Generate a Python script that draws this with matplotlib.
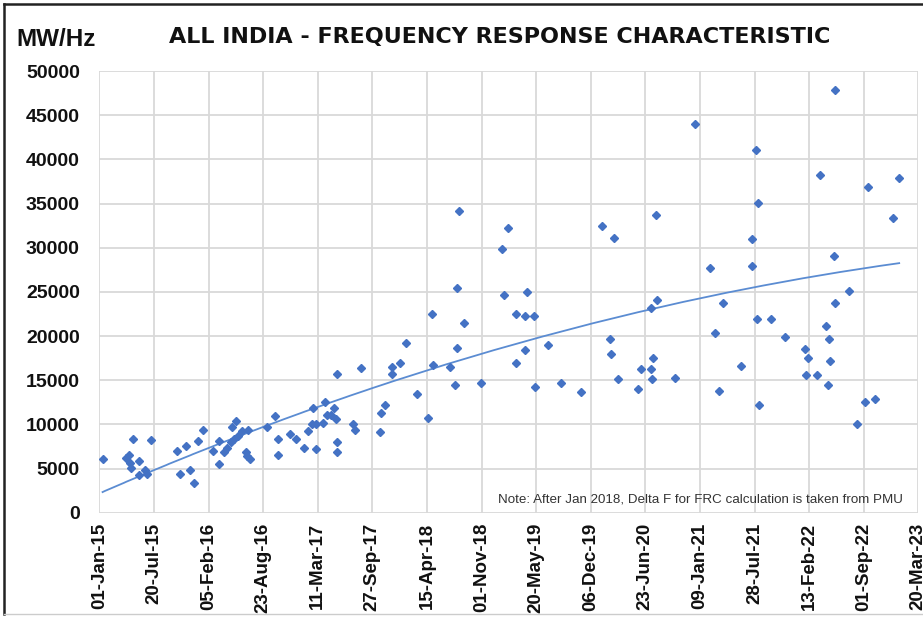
import numpy as np
import matplotlib
matplotlib.use("Agg")
import matplotlib.pyplot as plt
from matplotlib.lines import Line2D
import datetime as dt

# ---- data ----
start_date = "2015-01-01"
# days since 01-Jan-2015 for each measurement
days = [12, 98, 110, 112, 116, 122, 146, 145, 167, 176, 189, 283, 295, 317, 334, 347,
        360, 380, 416, 437, 439, 456, 468, 485, 484, 494, 502, 508, 523, 536, 543, 541,
        551, 613, 643, 656, 654, 698, 722, 748, 766, 784, 780, 795, 792, 821, 826, 834,
        850, 858, 868, 872, 870, 870,
        931, 937, 957, 1029, 1032, 1045, 1071, 1073, 1103, 1122, 1163, 1205, 1218, 1223,
        1285, 1304, 1311, 1311, 1336, 1398,
        1317, 1475, 1496, 1481, 1528, 1560, 1565, 1593, 1560, 1528, 1597, 1644, 1692,
        1764, 1843, 1886, 1870, 1876, 1901, 1972, 1985, 2022, 2028, 2025, 2020, 2040, 2044,
        2109, 2183, 2237, 2284, 2257, 2271, 2349, 2405, 2413, 2390, 2390, 2410, 2416,
        2696, 2639, 2814, 2930, 2906, 2690, 2745, 2694, 2459, 2510, 2662, 2674, 2584,
        2596, 2675, 2589, 2628, 2671, 2806, 2842, 2777]
frc = [6025, 6206, 6546, 5640, 5074, 8358, 5832, 4213, 4813, 4439, 8211, 6965, 4439, 7531,
       4892, 3420, 8097, 9422, 7044, 5493, 8131, 6886, 7305, 9717, 8018, 8403, 10396, 8663,
       9264, 6886, 9343, 6398, 6138, 9717, 10929, 8290, 6478, 8890, 8290, 7305, 9230, 11835,
       10023, 10023, 7270, 10102, 12514, 11042, 11042, 11835, 10555, 15685, 7984, 6852,
       10023, 9422, 16365, 9117, 11268, 12174, 16516, 15685, 16969, 19234, 13498, 10781,
       22480, 16704, 16516, 14439, 18668, 25460, 21497, 14745,
       34144, 29841, 32254, 24632, 22556, 22254, 24972, 22329, 18480, 16969, 14247, 19046,
       14632, 13681, 32524, 31165, 19726, 18027, 15118, 13986, 16327, 16327, 17531, 15118,
       23236, 33690, 24142,
       15269, 44034, 27656, 23764, 20367, 13760, 16667, 41023, 35086, 31010, 27995, 21993,
       12175,
       47850, 38257, 36864, 37961, 33386, 29083, 25085, 23692, 21993, 19910, 21157, 19684,
       18550, 17575, 17157, 15651, 15572, 14473, 12593, 12820, 9989]

# trendline (Excel polynomial trend) at a few dates
trend_days = [12, 599, 1100, 1600, 2014, 2270, 2931]
trend_vals = [2360, 9717, 15005, 19726, 23123, 24745, 28220]

x_tick_labels = ["01-Jan-15", "20-Jul-15", "05-Feb-16", "23-Aug-16", "11-Mar-17",
                 "27-Sep-17", "15-Apr-18", "01-Nov-18", "20-May-19", "06-Dec-19",
                 "23-Jun-20", "09-Jan-21", "28-Jul-21", "13-Feb-22", "01-Sep-22",
                 "20-Mar-23"]
y_ticks = [0, 5000, 10000, 15000, 20000, 25000, 30000, 35000, 40000, 45000, 50000]

title = "ALL INDIA - FREQUENCY RESPONSE CHARACTERISTIC"
y_unit = "MW/Hz"
note = "Note: After Jan 2018, Delta F for FRC calculation is taken from PMU"

# ---- derived ----
t0 = np.datetime64(start_date)
dates = t0 + np.array(days).astype("timedelta64[D]")
xnum = matplotlib.dates.date2num(dates)
tick_dates = [dt.datetime.strptime(s, "%d-%b-%y") for s in x_tick_labels]
tick_num = matplotlib.dates.date2num(tick_dates)

W, H = 923, 618
fig = plt.figure(figsize=(W / 100, H / 100), dpi=100)
ax = fig.add_axes([99.3 / W, 1 - 512.7 / H, (918.3 - 99.3) / W, (512.7 - 71.2) / H])

ax.set_xlim(tick_num[0], tick_num[-1])
ax.set_ylim(0, 50000)

marker_col = "#4472C4"
ax.plot(xnum, frc, linestyle="none", marker="D", ms=4.3, mfc=marker_col,
        mec=marker_col, zorder=3)

# smooth quadratic trendline through the read trend samples
coef = np.polyfit(np.array(trend_days, float), np.array(trend_vals, float), 2)
tt = np.linspace(min(days), max(days), 300)
ax.plot(matplotlib.dates.date2num(t0 + tt.astype("timedelta64[D]")),
        np.polyval(coef, tt), color="#5B8CD2", lw=1.3, zorder=2)

ax.set_xticks(tick_num)
ax.set_xticklabels(x_tick_labels, rotation=90, fontfamily="Liberation Sans",
                   fontweight="bold", fontsize=13.5, color="#111111")
ax.set_yticks(y_ticks)
ax.set_yticklabels([str(v) for v in y_ticks], fontfamily="Liberation Sans",
                   fontweight="bold", fontsize=14, color="#111111")
ax.tick_params(axis="both", length=0)
ax.tick_params(axis="y", pad=14)
ax.tick_params(axis="x", pad=7)

ax.grid(True, color="#D9D9D9", lw=1.3)
ax.set_axisbelow(True)
for s in ax.spines.values():
    s.set_visible(False)

ax.text(0.981, 0.029, note, transform=ax.transAxes, ha="right", va="center",
        fontsize=9.6, fontfamily="Liberation Sans", color="#333333")

fig.text(500 / W, 1 - 37 / H, title, ha="center", va="center",
         fontfamily="DejaVu Sans", fontweight="bold", fontsize=16, color="#111111")
fig.text(16 / W, 1 - 39 / H, y_unit, ha="left", va="center",
         fontfamily="Liberation Sans", fontweight="bold", fontsize=17.5, color="#111111")

# outer frame
fig.add_artist(Line2D([4 / W, 4 / W], [1 - 614 / H, 1 - 4 / H], transform=fig.transFigure,
                      color="#222222", lw=1.8))
fig.add_artist(Line2D([4 / W, 1], [1 - 4 / H, 1 - 4 / H], transform=fig.transFigure,
                      color="#222222", lw=1.8))
fig.add_artist(Line2D([4 / W, 1], [1 - 614 / H, 1 - 614 / H], transform=fig.transFigure,
                      color="#CCCCCC", lw=1.0))

fig.savefig("out.png", dpi=100)
